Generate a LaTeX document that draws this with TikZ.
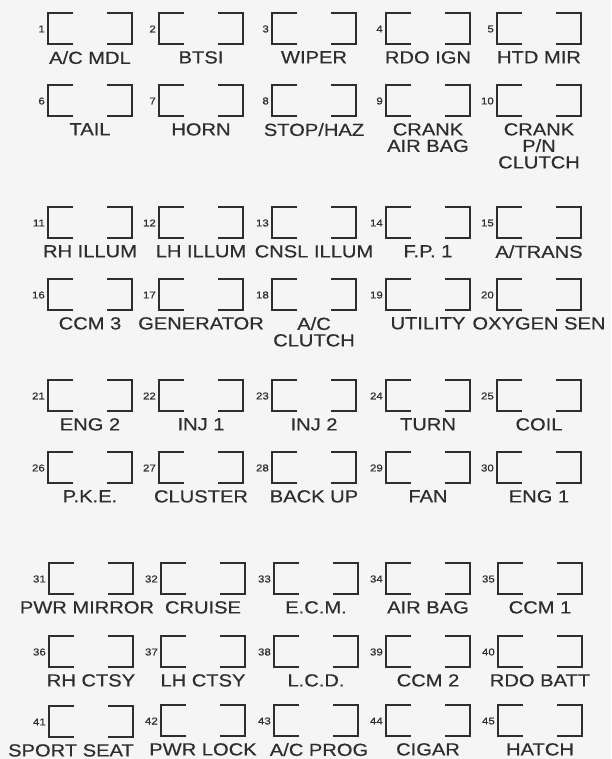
\documentclass[tikz,border=0pt]{standalone}
\usepackage{fontspec}
\setmainfont{Liberation Sans}[FakeStretch=1.15, FakeBold=0.5]
\definecolor{inkgray}{HTML}{2E2E2E}
\definecolor{papergray}{HTML}{F5F5F5}

\tikzset{
  fusebracket/.style={inkgray, line width=1.8pt},
  fusenum/.style={inkgray, anchor=east, inner sep=0pt, font=\fontsize{10}{10}\selectfont},
  fuselabel/.style={inkgray, anchor=north, inner sep=0pt, align=center, font=\fontsize{17.5}{16.5}\selectfont}
}

% [label shift]{x}{y top}{number}{label}
\newcommand{\fuse}[5][0]{%
  \draw[fusebracket] (#2+25,#3) -- (#2,#3) -- (#2,#3+31) -- (#2+25,#3+31);
  \draw[fusebracket] (#2+59,#3) -- (#2+84,#3) -- (#2+84,#3+31) -- (#2+59,#3+31);
  \node[fusenum] (num#4) at (#2-3,#3+16) {#4};
  \node[fuselabel] (lbl#4) at (#2+42+#1,#3+38) {#5};
}

\begin{document}
\begin{tikzpicture}[x=1pt, y=-1pt]
  \fill[papergray] (0,0) rectangle (611,759);

  % rows 1-2
  \fuse{48}{13}{1}{A/C MDL}
  \fuse{159}{13}{2}{BTSI}
  \fuse{272}{13}{3}{WIPER}
  \fuse{386}{13}{4}{RDO IGN}
  \fuse{497}{13}{5}{HTD MIR}
  \fuse{48}{85}{6}{TAIL}
  \fuse{159}{85}{7}{HORN}
  \fuse{272}{85}{8}{STOP/HAZ}
  \fuse{386}{85}{9}{CRANK\\AIR BAG}
  \fuse{497}{85}{10}{CRANK\\P/N\\CLUTCH}

  % rows 3-4
  \fuse{48}{207}{11}{RH ILLUM}
  \fuse{159}{207}{12}{LH ILLUM}
  \fuse{272}{207}{13}{CNSL ILLUM}
  \fuse{386}{207}{14}{F.P. 1}
  \fuse{497}{207}{15}{A/TRANS}
  \fuse{48}{279}{16}{CCM 3}
  \fuse{159}{279}{17}{GENERATOR}
  \fuse{272}{279}{18}{A/C\\CLUTCH}
  \fuse{386}{279}{19}{UTILITY}
  \fuse{497}{279}{20}{OXYGEN SEN}

  % rows 5-6
  \fuse{48}{380}{21}{ENG 2}
  \fuse{159}{380}{22}{INJ 1}
  \fuse{272}{380}{23}{INJ 2}
  \fuse{386}{380}{24}{TURN}
  \fuse{497}{380}{25}{COIL}
  \fuse{48}{452}{26}{P.K.E.}
  \fuse{159}{452}{27}{CLUSTER}
  \fuse{272}{452}{28}{BACK UP}
  \fuse{386}{452}{29}{FAN}
  \fuse{497}{452}{30}{ENG 1}

  % rows 7-9
  \fuse[-4]{49}{563}{31}{PWR MIRROR}
  \fuse{161}{563}{32}{CRUISE}
  \fuse{274}{563}{33}{E.C.M.}
  \fuse{386}{563}{34}{AIR BAG}
  \fuse{498}{563}{35}{CCM 1}
  \fuse{49}{636}{36}{RH CTSY}
  \fuse{161}{636}{37}{LH CTSY}
  \fuse{274}{636}{38}{L.C.D.}
  \fuse{386}{636}{39}{CCM 2}
  \fuse{498}{636}{40}{RDO BATT}
  \fuse[-20]{49}{706}{41}{SPORT SEAT}
  \fuse{161}{705}{42}{PWR LOCK}
  \fuse[3]{274}{705}{43}{A/C PROG}
  \fuse{386}{705}{44}{CIGAR}
  \fuse{498}{705}{45}{HATCH}
\end{tikzpicture}
\end{document}
